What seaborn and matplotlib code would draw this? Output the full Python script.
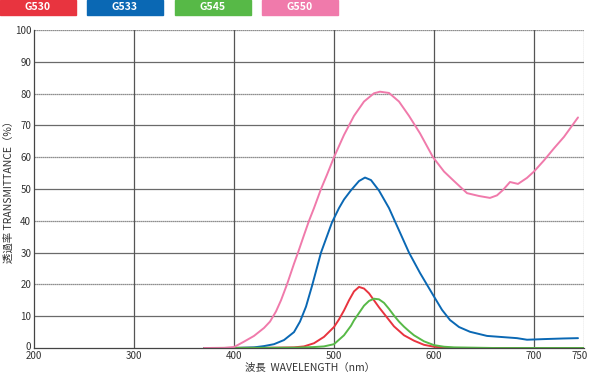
import numpy as np
import pandas as pd
import seaborn as sns
import matplotlib
matplotlib.use("Agg")
import matplotlib.pyplot as plt
import matplotlib.transforms as mtransforms
from matplotlib.patches import Rectangle

# ---- data ----
series_names = ["G530", "G533", "G545", "G550"]
series_colors = ["#e8343f", "#0a68b4", "#57b947", "#f07aab"]

wl_g530 = [370, 440, 460, 470, 480, 490, 500, 505, 510, 515, 520, 525, 530, 535, 540, 545, 550, 555, 560, 570, 580, 590, 600, 610, 620, 640, 660, 680, 700, 750]
tr_g530 = [0, 0.1, 0.2, 0.5, 1.5, 3.5, 6.6, 9.0, 11.8, 15.0, 17.8, 19.2, 18.7, 17.2, 15.0, 12.8, 10.8, 8.8, 6.8, 4.0, 2.3, 1.0, 0.4, 0.1, 0, 0, 0, 0, 0, 0]

wl_g533 = [370, 400, 420, 430, 440, 450, 460, 466, 472, 478, 487, 498, 505, 510, 517, 525, 531, 537, 545, 555, 565, 575, 586, 599, 608, 616, 625, 636, 653, 670, 683, 693, 710, 730, 744]
tr_g533 = [0, 0, 0.2, 0.6, 1.2, 2.5, 5.0, 8.3, 13.0, 19.5, 30.0, 39.5, 44.0, 46.7, 49.6, 52.5, 53.6, 52.8, 49.5, 44.0, 37.0, 30.0, 23.6, 16.7, 12.0, 8.8, 6.6, 5.1, 3.8, 3.4, 3.1, 2.6, 2.8, 3.0, 3.1]

wl_g545 = [370, 460, 480, 490, 500, 510, 517, 520, 525, 530, 535, 540, 545, 550, 555, 560, 565, 570, 575, 580, 590, 600, 610, 620, 640, 660, 700, 750]
tr_g545 = [0, 0.1, 0.3, 0.5, 1.2, 4.0, 7.0, 8.7, 11.0, 13.3, 14.8, 15.5, 15.3, 14.2, 12.3, 10.2, 8.3, 6.7, 5.3, 4.0, 2.1, 0.9, 0.4, 0.2, 0.1, 0, 0, 0]

wl_g550 = [370, 390, 400, 410, 420, 430, 436, 442, 447, 453, 460, 464, 470, 475, 480, 487, 493, 500, 510, 520, 530, 540, 546, 555, 565, 575, 586, 599, 610, 619, 633, 645, 656, 663, 669, 676, 684, 693, 700, 710, 720, 730, 744]
tr_g550 = [0, 0, 0.3, 2.0, 3.8, 6.3, 8.3, 11.5, 15.0, 20.0, 26.5, 30.0, 35.5, 40.0, 44.0, 50.0, 54.5, 60.0, 67.0, 73.0, 77.5, 80.1, 80.6, 80.2, 77.5, 73.0, 67.5, 60.0, 55.5, 52.8, 48.7, 47.8, 47.2, 48.0, 49.7, 52.2, 51.6, 53.5, 55.5, 59.0, 62.8, 66.4, 72.5]

x_ticks = [200, 300, 400, 500, 600, 700, 750]
y_ticks = [0, 10, 20, 30, 40, 50, 60, 70, 80, 90, 100]

frames = []
for name, wl, tr in [("G530", wl_g530, tr_g530), ("G533", wl_g533, tr_g533),
                     ("G545", wl_g545, tr_g545), ("G550", wl_g550, tr_g550)]:
    frames.append(pd.DataFrame({"wl": wl, "tr": tr, "filter": name}))
df = pd.concat(frames, ignore_index=True)

sns.set_theme(style="white")
plt.rcParams["font.family"] = ["Noto Sans CJK JP", "DejaVu Sans"]

W, H = 590, 375
fig = plt.figure(figsize=(W / 100, H / 100), dpi=100)
ax = fig.add_axes([34 / W, 1 - 348 / H, 550 / W, 318 / H])

# grid
for y in y_ticks[1:]:
    ax.axhline(y, color="#6a6a6a", lw=0.9, zorder=0,
               ls=(0, (1, 0.6)) if y in (20, 40, 60, 80, 100) else "-")
for x in x_ticks[1:-1]:
    ax.axvline(x, color="#555555", lw=0.9, zorder=0)
ax.axvline(750, color="#777777", lw=0.9, zorder=0, ls=(0, (1, 0.6)))

sns.lineplot(data=df, x="wl", y="tr", hue="filter", hue_order=series_names,
             palette=series_colors, ax=ax, legend=False, lw=1.4,
             sort=False, estimator=None)

ax.set_xlim(200, 750)
ax.set_ylim(0, 100)
ax.set_xticks(x_ticks)
ax.set_yticks(y_ticks)
ax.tick_params(axis="both", labelsize=7, colors="#333333", length=0, pad=2)
ax.tick_params(axis="x", pad=2)
for s in ["top", "right"]:
    ax.spines[s].set_visible(False)
for s in ["left", "bottom"]:
    ax.spines[s].set_color("#444444")
    ax.spines[s].set_linewidth(0.9)

# nudge edge tick labels like the reference
xl = ax.get_xticklabels()
xl[-1].set_transform(xl[-1].get_transform() +
                     mtransforms.ScaledTranslation(-4 / 100, 0, fig.dpi_scale_trans))
yl = ax.get_yticklabels()
yl[0].set_transform(yl[0].get_transform() +
                    mtransforms.ScaledTranslation(0, 2.5 / 100, fig.dpi_scale_trans))

ax.set_xlabel("波長  WAVELENGTH（nm）", fontsize=7.5, color="#333333", va="center")
ax.set_ylabel("透過率 TRANSMITTANCE（%）", fontsize=7.5, color="#333333", va="center")
ax.xaxis.set_label_coords((310 - 34) / 550, (348 - 368) / 318)
ax.yaxis.set_label_coords((9 - 34) / 550, 0.5)

# legend boxes across the top
box_x = [0, 87, 175, 262]
for x0, name, col in zip(box_x, series_names, series_colors):
    fig.patches.append(Rectangle((x0 / W, 1 - 15 / H), 76 / W, 15 / H,
                                 transform=fig.transFigure, color=col, zorder=5))
    fig.text((x0 + 38) / W, 1 - 7.5 / H, name, color="white", fontsize=7.5,
             fontweight="bold", ha="center", va="center", zorder=6)

fig.savefig("out.png", dpi=100)
